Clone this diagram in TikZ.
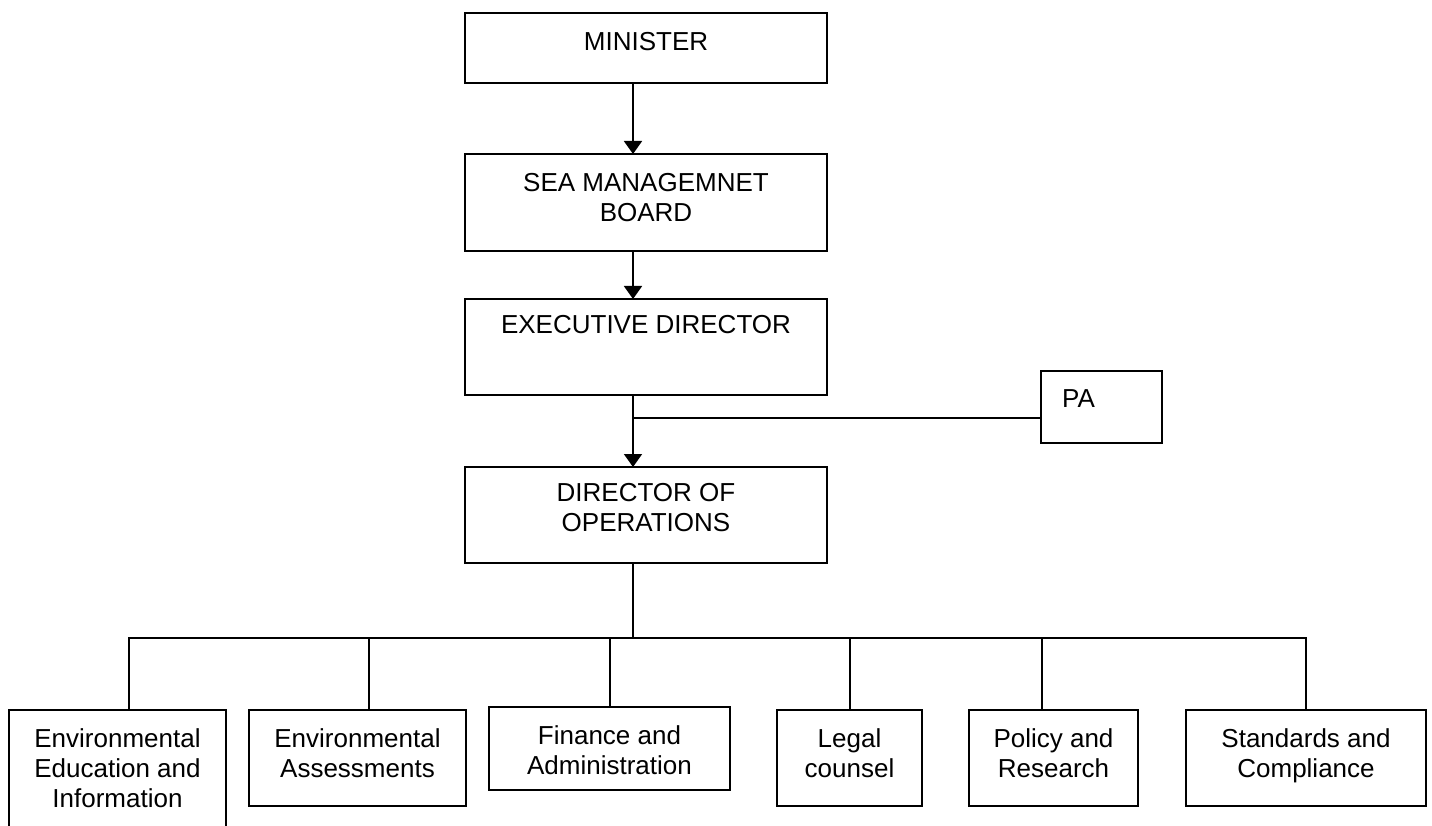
\documentclass[tikz,border=0pt]{standalone}
\usepackage{fontspec}
\setmainfont{Liberation Sans}
\usetikzlibrary{arrows.meta,positioning}

\begin{document}
\begin{tikzpicture}[
    x=1pt, y=-1pt,
    font=\fontsize{26pt}{30pt}\selectfont,
    box/.style={draw=black, line width=1.8pt, inner sep=0pt, outer sep=0pt, anchor=north west},
    caption/.style={align=center, inner sep=0pt, anchor=north},
    link/.style={draw=black, line width=1.8pt},
    feed/.style={link, -{Triangle[width=18pt,length=13pt]}}
]
\useasboundingbox (0,0) rectangle (1432,826);

% spine of the chart and the bus to the units
\coordinate (spine) at (633,0);
\coordinate (busy) at (0,638);

% top of the chain
\node[box, minimum width=362pt, minimum height=70pt] (minister) at (465,13) {};
\node[box, minimum width=362pt, minimum height=97pt] (board) at (465,154) {};
\node[box, minimum width=362pt, minimum height=96pt] (exec) at (465,299) {};
\node[box, minimum width=362pt, minimum height=96pt] (ops) at (465,467) {};
\node[box, minimum width=121pt, minimum height=72pt] (pa) at (1041,371) {};

\node[caption] (minister-t) at ([yshift=-19pt]minister.north) {MINISTER};
\node[caption] (board-t) at ([yshift=-19pt]board.north) {SEA MANAGEMNET\\BOARD};
\node[caption] (exec-t) at ([yshift=-16pt]exec.north) {EXECUTIVE DIRECTOR};
\node[caption] (ops-t) at ([yshift=-16pt]ops.north) {DIRECTOR OF\\OPERATIONS};
\node[caption, anchor=north west] (pa-t) at ([xshift=21pt,yshift=-18pt]pa.north west) {PA};

\draw[feed] (minister.south -| spine) -- (board.north -| spine);
\draw[feed] (board.south -| spine) -- (exec.north -| spine);
\draw[feed] (exec.south -| spine) -- (ops.north -| spine);
\coordinate (pajoin) at (spine |- 0,418);
\draw[link] (pajoin) -- (pajoin -| pa.west);

% units under the director of operations
\foreach \name/\l/\t/\w/\h/\drop/\txt in {
    edu/9/710/217/130/129/{Environmental\\Education and\\Information},
    assess/249/710/217/96/369/{Environmental\\Assessments},
    finance/489/707/241/83/610/{Finance and\\Administration},
    legal/777/710/145/96/850/{Legal\\counsel},
    policy/969/710/169/96/1042/{Policy and\\Research},
    standards/1186/710/240/96/1306/{Standards and\\Compliance}} {
  \node[box, minimum width=\w pt, minimum height=\h pt] (\name) at (\l,\t) {};
  \node[caption] (\name-t) at ([yshift=-18pt]\name.north) {\txt};
  \coordinate (\name-drop) at (\drop,0 |- busy);
  \draw[link] (\name-drop) -- (\name-drop |- \name.north);
}

\draw[link] (ops.south -| spine) -- (spine |- busy);
\draw[link] ([xshift=-0.9pt]edu-drop) -- ([xshift=0.9pt]standards-drop);
\end{tikzpicture}
\end{document}
